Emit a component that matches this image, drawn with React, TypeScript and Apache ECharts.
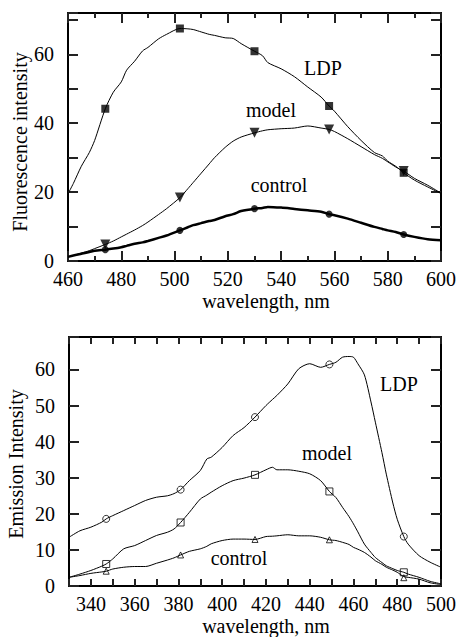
import React, { useEffect, useRef } from "react";
import * as echarts from "echarts";

// ---------- top panel data ----------
const topWavelength = [460, 462, 465, 468, 470, 474, 477, 480, 482, 485, 488, 490, 494, 497, 502, 505, 507, 510, 513, 515, 519, 522, 525, 530, 533, 535, 540, 545, 550, 555, 558, 560, 565, 570, 575, 578, 580, 583, 586, 590, 595, 600];
const topLDP = [19.5, 22.5, 27.5, 31.5, 35, 44.2, 49, 52, 55.4, 58, 61, 62, 64.5, 65.8, 67.5, 67.4, 67.2, 66.5, 65.8, 65.5, 64.8, 64.6, 63.1, 60.9, 59.6, 57.6, 55.8, 53.5, 50.5, 47.6, 45, 43.5, 39, 35, 31.5, 30.5, 29, 27.5, 25.6, 23.5, 21.5, 19.6];
const topModel = [1.2, 1.6, 2.3, 3, 3.6, 4.8, 5.8, 7, 7.8, 9, 10.3, 11.3, 13.5, 15.2, 18.4, 21, 22.8, 25.5, 28.2, 30, 33, 34.8, 36, 37.2, 37.8, 38.1, 38.4, 38.6, 39.2, 38.6, 38.2, 37.6, 35.5, 33.2, 30.9, 29.8, 28.8, 27.3, 26.1, 24, 22, 19.7];
const topControl = [1.2, 1.6, 2.1, 2.6, 3, 3.3, 3.6, 4, 4.4, 5, 5.4, 5.8, 6.7, 7.4, 8.9, 9.8, 10.4, 11, 11.6, 11.9, 13, 13.6, 14.5, 15.2, 15.4, 15.7, 15.5, 15.1, 14.7, 14.3, 13.6, 13.3, 12.3, 11.1, 9.9, 9.3, 8.9, 8.4, 7.7, 7, 6.3, 6];
const topMarkerWavelength = [474, 502, 530, 558, 586];
const topLDPMarkers = [44.2, 67.5, 60.9, 45, 25.6];
const topModelMarkers = [4.8, 18.4, 37.2, 38.2, 26.1];
const topControlMarkers = [3.3, 8.9, 15.2, 13.6, 7.7];

// ---------- bottom panel data ----------
const botWavelength = [330, 335, 340, 345, 347, 350, 355, 360, 365, 370, 375, 378, 381, 385, 390, 393, 395, 400, 405, 410, 415, 420, 423, 425, 430, 435, 440, 445, 449, 452, 455, 458, 460, 462, 465, 468, 470, 473, 475, 478, 480, 483, 485, 490, 495, 500];
const botLDP = [13.5, 15.3, 16.3, 17.7, 18.6, 19.5, 20.9, 22.3, 23.7, 24.6, 25, 25.6, 26.7, 29.2, 32, 35.2, 35.7, 38.4, 41.7, 43.9, 46.8, 50, 51.7, 52.8, 56, 60.2, 61.6, 60.6, 61.4, 62, 63.4, 63.6, 63.4, 61.6, 58.5, 51, 45.4, 37, 31, 23, 18.5, 13.7, 11.6, 8.4, 6.6, 5.2];
const botModel = [2.4, 3.3, 4.3, 5.5, 6.1, 7.5, 10.3, 11.2, 12.6, 14, 14.9, 15.8, 17.6, 20.4, 24.1, 25.2, 26, 27.8, 29.2, 29.9, 30.8, 32.2, 32.9, 32.2, 32.2, 31.8, 31.1, 29.2, 26.2, 24.5, 21.8, 19.2, 17.2, 15, 11.6, 9.3, 7.9, 6.5, 5.6, 4.8, 4.3, 3.8, 3.3, 2.4, 1.3, 0.6];
const botControl = [2.4, 2.9, 3.5, 3.9, 4.1, 4.7, 5.2, 5.4, 5.4, 6.3, 7.2, 7.8, 8.6, 9.6, 10.3, 11, 11.7, 12.6, 13, 13, 12.9, 13.7, 13.8, 13.9, 14.2, 13.9, 13.9, 13.5, 12.8, 12.6, 12.1, 11.5, 10.7, 10.2, 9.3, 8, 7, 6, 5.2, 4.4, 3.8, 2.6, 2.4, 1.9, 0.9, 0.4];
const botMarkerWavelength = [347, 381, 415, 449, 483];
const botLDPMarkers = [18.6, 26.7, 46.8, 61.4, 13.7];
const botModelMarkers = [6.1, 17.6, 30.8, 26.2, 3.8];
const botControlMarkers = [4.1, 8.6, 12.9, 12.8, 2.3];

// ---------- axis steps ----------
const topXStep = 20;
const botXStep = 10;
const xLabelStep = 20;
const topYLabelStep = 20;
const botYLabelStep = 10;

const FONT = "Liberation Serif";
const BLACK = "#000";
const TICK = "#222";

const zip = (xs: number[], ys: number[]) => xs.map((x, i) => [x, ys[i]]);

const axisLineOpt = () => ({ show: true, onZero: false, lineStyle: { color: BLACK, width: 2 } });

function xAxes(gridIndex: number, min: number, max: number, step: number, len: number, minor: boolean) {
  const base = () => ({
    type: "value",
    gridIndex,
    min,
    max,
    interval: step,
    axisLine: axisLineOpt(),
    axisTick: { show: true, inside: true, length: len, lineStyle: { color: TICK, width: 2 } },
    minorTick: { show: minor, splitNumber: 2, length: 5, lineStyle: { color: TICK, width: 2 } },
    splitLine: { show: false },
    minorSplitLine: { show: false },
  });
  return [
    {
      ...base(),
      position: "bottom",
      axisLabel: {
        fontFamily: FONT,
        fontSize: 20,
        color: BLACK,
        margin: 8,
        formatter: (v: number) => (v % xLabelStep === 0 ? String(v) : ""),
      },
    },
    { ...base(), position: "top", axisLabel: { show: false } },
  ];
}

function yAxes(gridIndex: number, min: number, max: number, labelStep: number) {
  const base = () => ({
    type: "value",
    gridIndex,
    min,
    max,
    interval: 10,
    splitLine: { show: false },
    axisLine: axisLineOpt(),
    axisTick: { show: true, inside: true, length: 10, lineStyle: { color: TICK, width: 2 } },
  });
  return [
    {
      ...base(),
      position: "left",
      axisLabel: {
        fontFamily: FONT,
        fontSize: 20,
        color: BLACK,
        margin: 14,
        formatter: (v: number) => (v % labelStep === 0 ? String(v) : ""),
      },
    },
    { ...base(), position: "right", axisLabel: { show: false } },
  ];
}

function lineSeries(xi: number, yi: number, xs: number[], ys: number[], width: number) {
  return {
    type: "line",
    xAxisIndex: xi,
    yAxisIndex: yi,
    data: zip(xs, ys),
    symbol: "none",
    smooth: 0.25,
    lineStyle: { color: BLACK, width },
  };
}

function markerSeries(xi: number, yi: number, xs: number[], ys: number[], symbol: string, size: number, filled: boolean, rotate = 0) {
  return {
    type: "scatter",
    xAxisIndex: xi,
    yAxisIndex: yi,
    data: zip(xs, ys),
    symbol,
    symbolSize: size,
    symbolRotate: rotate,
    itemStyle: filled ? { color: BLACK } : { color: "#fff", borderColor: BLACK, borderWidth: 1 },
  };
}

const textStyle = (text: string) => ({
  text,
  fontFamily: FONT,
  fontSize: 20,
  fill: BLACK,
  textAlign: "center",
  textVerticalAlign: "middle",
});

export default function App() {
  const ref = useRef<HTMLDivElement>(null);
  useEffect(() => {
    document.body.style.margin = "0";
    const chart = echarts.init(ref.current!, null, { renderer: "svg" });
    const option = {
      animation: false,
      backgroundColor: "#fff",
      grid: [
        { left: 68, top: 13, width: 375, height: 248 },
        { left: 69, top: 337, width: 374, height: 249 },
      ],
      xAxis: [...xAxes(0, 460, 600, topXStep, 10, true), ...xAxes(1, 330, 500, botXStep, 7, false)],
      yAxis: [...yAxes(0, 0, 72, topYLabelStep), ...yAxes(1, 0, 69, botYLabelStep)],
      series: [
        lineSeries(0, 0, topWavelength, topLDP, 1),
        lineSeries(0, 0, topWavelength, topModel, 1),
        lineSeries(0, 0, topWavelength, topControl, 2.5),
        markerSeries(0, 0, topMarkerWavelength, topLDPMarkers, "rect", 8, true),
        markerSeries(0, 0, topMarkerWavelength, topModelMarkers, "triangle", 10, true, 180),
        markerSeries(0, 0, topMarkerWavelength, topControlMarkers, "circle", 7, true),
        lineSeries(2, 2, botWavelength, botLDP, 1),
        lineSeries(2, 2, botWavelength, botModel, 1),
        lineSeries(2, 2, botWavelength, botControl, 1),
        markerSeries(2, 2, botMarkerWavelength, botLDPMarkers, "circle", 7, false),
        markerSeries(2, 2, botMarkerWavelength, botModelMarkers, "rect", 7, false),
        markerSeries(2, 2, botMarkerWavelength, botControlMarkers, "triangle", 6, false),
      ],
      graphic: [
        { type: "text", x: 323, y: 68, style: textStyle("LDP") },
        { type: "text", x: 271, y: 110, style: textStyle("model") },
        { type: "text", x: 279, y: 185, style: textStyle("control") },
        { type: "text", x: 399, y: 384, style: textStyle("LDP") },
        { type: "text", x: 327, y: 453, style: textStyle("model") },
        { type: "text", x: 239, y: 558, style: textStyle("control") },
        { type: "text", x: 266, y: 301, style: textStyle("wavelength, nm") },
        { type: "text", x: 266, y: 626, style: textStyle("wavelength, nm") },
        { type: "text", x: 20, y: 142, rotation: Math.PI / 2, style: textStyle("Fluorescence intensity") },
        { type: "text", x: 16, y: 464, rotation: Math.PI / 2, style: textStyle("Emission Intensity") },
      ],
    };
    chart.setOption(option as any);
    return () => chart.dispose();
  }, []);
  return <div ref={ref} style={{ width: 459, height: 637 }} />;
}
